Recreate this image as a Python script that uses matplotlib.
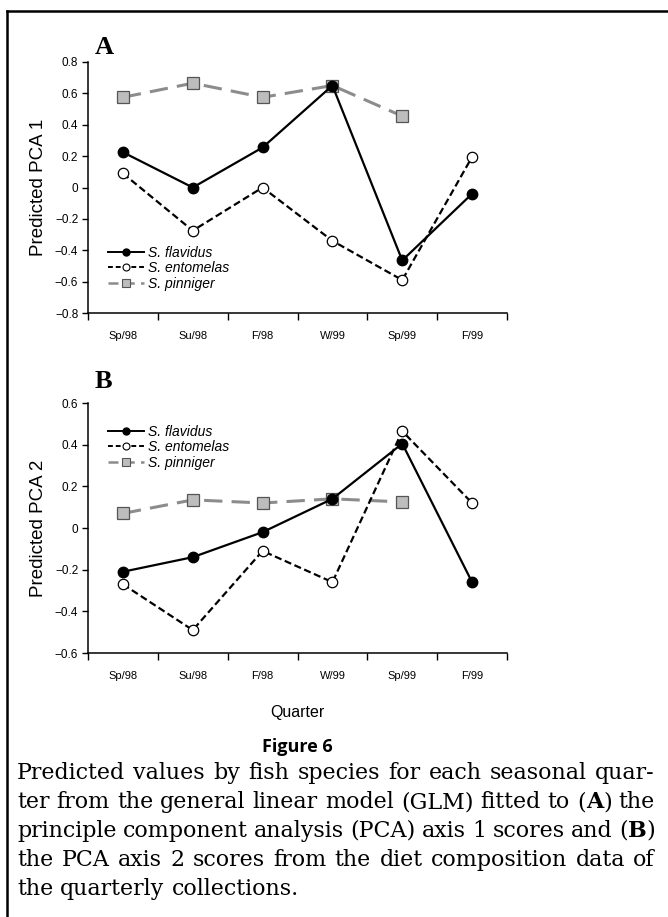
import matplotlib
matplotlib.use("Agg")
import matplotlib.pyplot as plt
from matplotlib.lines import Line2D

quarters = ["Sp/98", "Su/98", "F/98", "W/99", "Sp/99", "F/99"]
species = ["S. flavidus", "S. entomelas", "S. pinniger"]

pca1_flavidus = [0.225, 0.0, 0.255, 0.65, -0.465, -0.04]
pca1_entomelas = [0.09, -0.275, 0.0, -0.34, -0.59, 0.195]
pca1_pinniger = [0.575, 0.665, 0.575, 0.65, 0.455]

pca2_flavidus = [-0.21, -0.14, -0.02, 0.14, 0.405, -0.26]
pca2_entomelas = [-0.27, -0.49, -0.11, -0.26, 0.465, 0.12]
pca2_pinniger = [0.07, 0.135, 0.12, 0.14, 0.125]

W, H = 668, 917
fig = plt.figure(figsize=(W / 100, H / 100), dpi=100)

SANS = ["Liberation Sans", "DejaVu Sans"]
SERIF = ["DejaVu Serif"]


def px_axes(x0, y0, x1, y1):
    return fig.add_axes([x0 / W, 1 - y1 / H, (x1 - x0) / W, (y1 - y0) / H])


def fmt(v):
    if abs(v) < 1e-9:
        return "0"
    return f"{v:.1f}".replace("-", "\u2212")


def draw_panel(ax, fl, en, pi, ylim, yticks, ylabel, legend_y):
    x = list(range(len(quarters)))
    ax.plot(x, en, color="black", lw=1.6, ls=(0, (3.2, 1.6)), marker="o", ms=7.5,
            mfc="white", mec="black", mew=0.9, zorder=3)
    ax.plot(x[:len(pi)], pi, color="#8c8c8c", lw=2.2, ls=(0, (6, 3)), marker="s", ms=8,
            mfc="#bdbdbd", mec="#555555", mew=0.9, zorder=2)
    ax.plot(x, fl, color="black", lw=1.6, ls="-", marker="o", ms=7.5,
            mfc="black", mec="black", zorder=4)
    ax.set_xlim(-0.5, len(quarters) - 0.5)
    ax.set_ylim(*ylim)
    ax.set_yticks(yticks)
    ax.set_yticklabels([fmt(v) for v in yticks], family=SANS, fontsize=8.5)
    ax.set_xticks([i + 0.5 for i in range(-1, len(quarters))])
    ax.set_xticklabels([])
    ax.set_xticks(x, minor=True)
    ax.set_xticklabels(quarters, minor=True, family=SANS, fontsize=8)
    ax.tick_params(axis="x", which="minor", length=0, pad=13)
    ax.tick_params(axis="x", which="major", direction="out", length=5, width=1)
    ax.tick_params(axis="y", direction="out", length=4, width=1, pad=3)
    for s in ["top", "right"]:
        ax.spines[s].set_visible(False)
    for s in ["left", "bottom"]:
        ax.spines[s].set_linewidth(1.1)
    ax.set_ylabel(ylabel, family=SANS, fontsize=13.5, labelpad=6)
    handles = [
        Line2D([], [], color="black", lw=1.4, marker="o", ms=5, mfc="black", mec="black"),
        Line2D([], [], color="black", lw=1.4, ls=(0, (2.5, 1.5)), marker="o", ms=5,
               mfc="white", mec="black", mew=0.8),
        Line2D([], [], color="#8c8c8c", lw=1.8, ls=(0, (4, 2.5)), marker="s", ms=5.5,
               mfc="#bdbdbd", mec="#555555", mew=0.8),
    ]
    ax.legend(handles, species, loc="upper left", bbox_to_anchor=(0.035, legend_y),
              frameon=False, handlelength=2.6, handletextpad=0.3, labelspacing=0.1,
              borderaxespad=0, prop={"family": SANS, "style": "italic", "size": 10})
    return ax


axA = px_axes(88, 62, 507, 313)
draw_panel(axA, pca1_flavidus, pca1_entomelas, pca1_pinniger, (-0.8, 0.8),
           [-0.8, -0.6, -0.4, -0.2, 0, 0.2, 0.4, 0.6, 0.8], "Predicted PCA 1", 0.29)

axB = px_axes(88, 403, 507, 653)
draw_panel(axB, pca2_flavidus, pca2_entomelas, pca2_pinniger, (-0.6, 0.6),
           [-0.6, -0.4, -0.2, 0, 0.2, 0.4, 0.6], "Predicted PCA 2", 0.935)

fig.text(95 / W, 1 - 47 / H, "A", family=["Liberation Serif", "DejaVu Serif"], weight="bold",
         fontsize=19, ha="left", va="center")
fig.text(95 / W, 1 - 382 / H, "B", family=["Liberation Serif", "DejaVu Serif"], weight="bold",
         fontsize=19, ha="left", va="center")

fig.text(297 / W, 1 - 712 / H, "Quarter", family=SANS, fontsize=11.5, ha="center", va="center")
fig.text(297 / W, 1 - 747 / H, "Figure 6", family=["Open Sans", "DejaVu Sans"], weight="bold",
         fontsize=13, ha="center", va="center")

# caption: words may contain *bold* segments; lines justified
caption_lines = [
    "Predicted values by fish species for each seasonal quar-",
    "ter from the general linear model (GLM) fitted to (*A*) the",
    "principle component analysis (PCA) axis 1 scores and (*B*)",
    "the PCA axis 2 scores from the diet composition data of",
    "the quarterly collections.",
]
LEFT, RIGHT = 17, 655
line_y = [779, 808, 837, 866, 895]

renderer = fig.canvas.get_renderer()


def segs_of(word):
    parts = word.split("*")
    return [(p, i % 2 == 1) for i, p in enumerate(parts) if p]


def seg_width(t, bold, fs):
    tt = fig.text(0, 0, t, family=SERIF, fontsize=fs, weight="bold" if bold else "normal")
    w = tt.get_window_extent(renderer=renderer).width
    tt.remove()
    return w


# choose a font size so the widest natural line just fills the column
probe = 10.0
space_probe = seg_width("a b", False, probe) - seg_width("ab", False, probe)
nat = []
for line in caption_lines[:-1]:
    words = line.split(" ")
    wsum = sum(seg_width(t, b, probe) for w in words for t, b in segs_of(w))
    nat.append(wsum + space_probe * 0.85 * (len(words) - 1))
CAP_FS = probe * (RIGHT - LEFT) / max(nat)

space = seg_width("a b", False, CAP_FS) - seg_width("ab", False, CAP_FS)
for i, (line, y) in enumerate(zip(caption_lines, line_y)):
    words = line.split(" ")
    wsegs = [segs_of(w) for w in words]
    widths = [[seg_width(t, b, CAP_FS) for t, b in ws] for ws in wsegs]
    total = sum(sum(w) for w in widths)
    if i < len(caption_lines) - 1 and len(words) > 1:
        gap = (RIGHT - LEFT - total) / (len(words) - 1)
    else:
        gap = space
    xcur = LEFT
    for ws, wl in zip(wsegs, widths):
        for (t, b), w in zip(ws, wl):
            fig.text(xcur / W, 1 - y / H, t, family=SERIF, fontsize=CAP_FS,
                     weight="bold" if b else "normal", ha="left", va="baseline")
            xcur += w
        xcur += gap

# frame lines: top and left only
fig.add_artist(Line2D([7 / W, 1], [1 - 11 / H, 1 - 11 / H], color="black", lw=1.8))
fig.add_artist(Line2D([7 / W, 7 / W], [0, 1 - 11 / H], color="black", lw=1.8))

fig.savefig("out.png", dpi=100)
